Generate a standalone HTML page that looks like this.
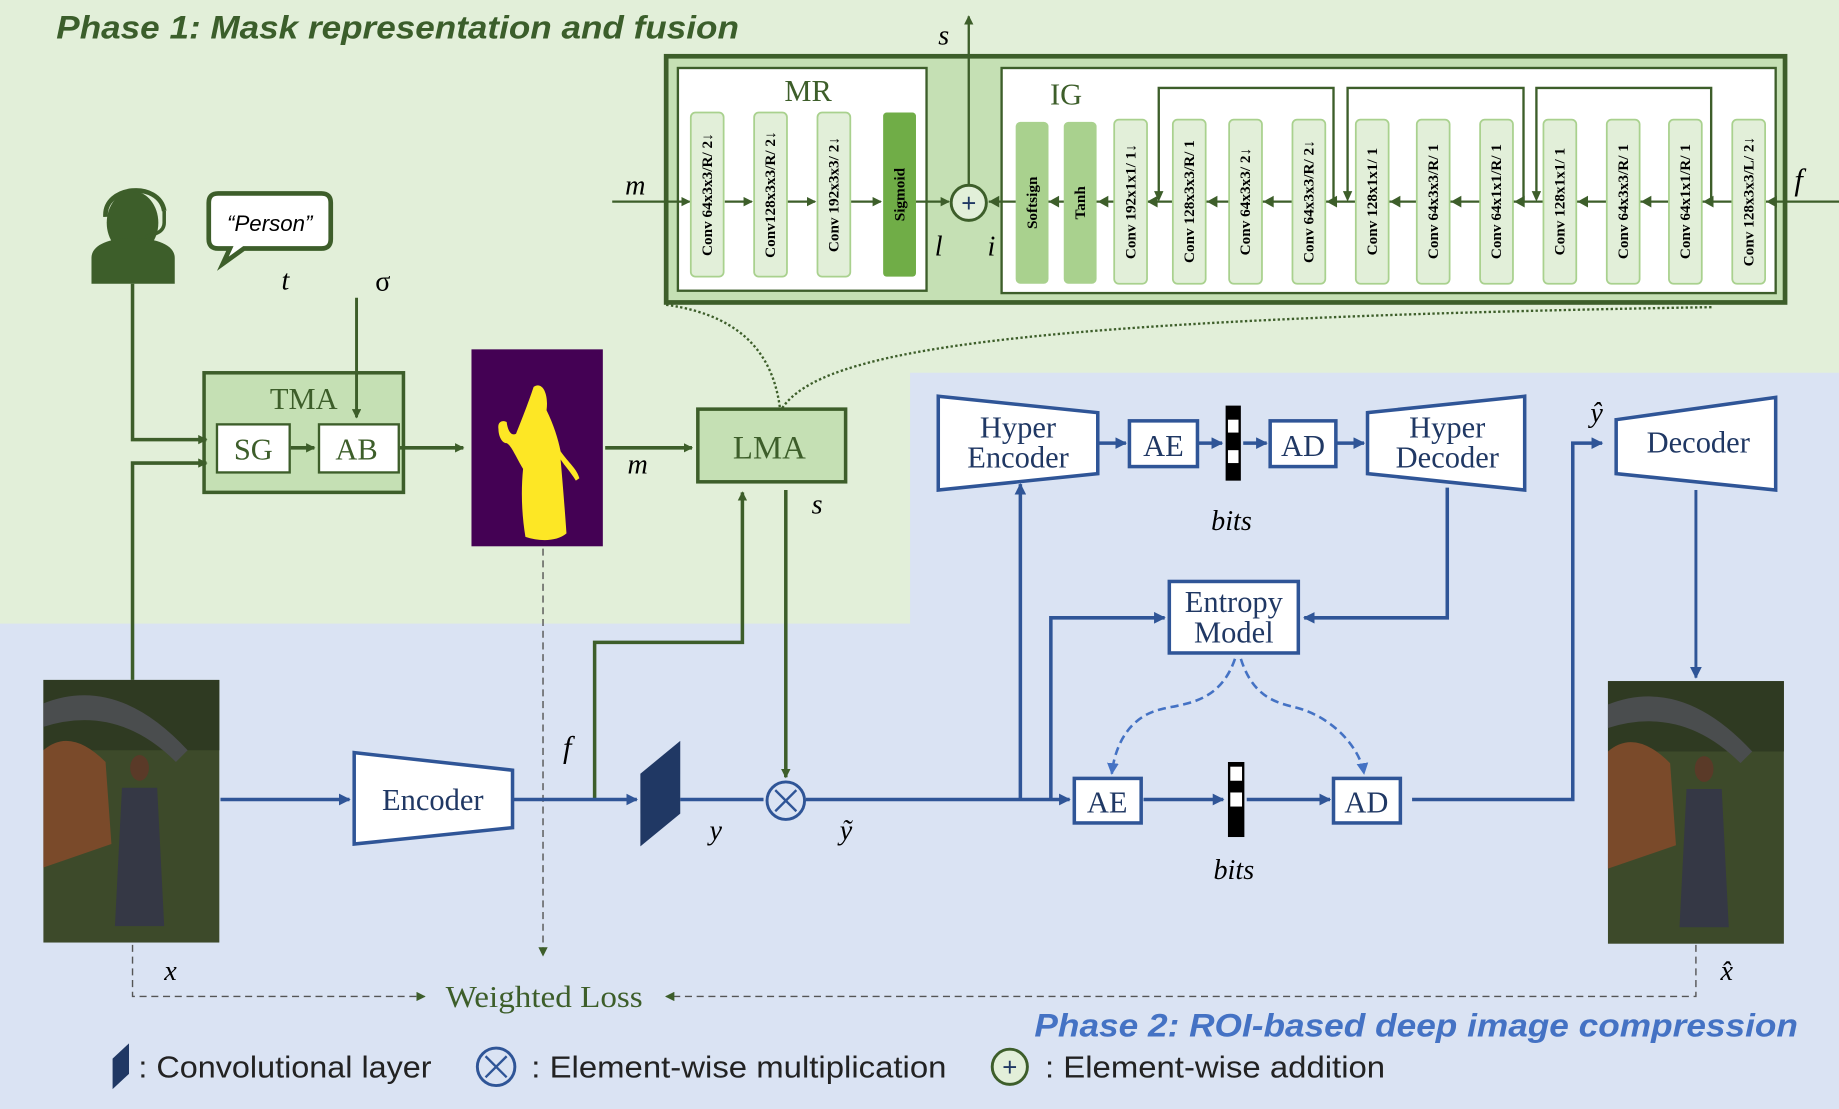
<!DOCTYPE html>
<html><head><meta charset="utf-8"><style>
html,body{margin:0;padding:0;background:#dae3f3;}
svg{display:block;}
.ser{font-family:"Liberation Serif",serif;}
.san{font-family:"Liberation Sans",sans-serif;}
.cv{font-family:"Liberation Serif",serif;font-weight:bold;font-size:13px;fill:#000;}
</style></head><body>
<svg width="1839" height="1109" viewBox="0 0 1568 946" preserveAspectRatio="none" xmlns="http://www.w3.org/2000/svg">
<defs>
<marker id="ag" markerWidth="8" markerHeight="8" refX="7" refY="4" orient="auto" markerUnits="userSpaceOnUse"><path d="M0,0 L8,4 L0,8 Z" fill="#3d5e2a"/></marker>
<marker id="ab" markerWidth="10" markerHeight="10" refX="9" refY="5" orient="auto" markerUnits="userSpaceOnUse"><path d="M0,0 L10,5 L0,10 Z" fill="#2f5597"/></marker>
<marker id="ab2" markerWidth="10" markerHeight="10" refX="9" refY="5" orient="auto" markerUnits="userSpaceOnUse"><path d="M0,0 L10,5 L0,10 Z" fill="#4472c4"/></marker>
<marker id="an" markerWidth="8" markerHeight="8" refX="7" refY="4" orient="auto" markerUnits="userSpaceOnUse"><path d="M0,0 L8,4 L0,8 Z" fill="#3d5e2a"/></marker>
</defs>
<rect x="0" y="0" width="1568" height="946" fill="#dae3f3"/>
<path d="M0,0 H1568 V318 H776 V532 H0 Z" fill="#e2efd9"/>
<text x="48" y="33" class="san" font-size="28" font-style="italic" font-weight="bold" fill="#3b5e2b" textLength="582" lengthAdjust="spacingAndGlyphs">Phase 1: Mask representation and fusion</text>

<rect x="568" y="48" width="954" height="210" fill="#c5e0b4" stroke="#3d5e2a" stroke-width="4"/>
<rect x="578" y="58" width="212" height="190" fill="#fff" stroke="#3d5e2a" stroke-width="2"/>
<rect x="854" y="58" width="660" height="192" fill="#fff" stroke="#3d5e2a" stroke-width="2"/>
<text x="689" y="86" class="ser" font-size="26" fill="#3d5e2a" text-anchor="middle">MR</text>
<text x="909" y="89" class="ser" font-size="26" fill="#3d5e2a" text-anchor="middle">IG</text>
<line x1="522" y1="172" x2="588" y2="172" stroke="#3d5e2a" stroke-width="2" marker-end="url(#ag)"/>
<line x1="618" y1="172" x2="641" y2="172" stroke="#3d5e2a" stroke-width="2" marker-end="url(#ag)"/>
<line x1="671" y1="172" x2="695" y2="172" stroke="#3d5e2a" stroke-width="2" marker-end="url(#ag)"/>
<line x1="725" y1="172" x2="751" y2="172" stroke="#3d5e2a" stroke-width="2" marker-end="url(#ag)"/>
<line x1="781" y1="172" x2="809" y2="172" stroke="#3d5e2a" stroke-width="2" marker-end="url(#ag)"/>
<line x1="1568" y1="172" x2="843" y2="172" stroke="#3d5e2a" stroke-width="2"/>
<g fill="#3d5e2a">
<path d="M843,172 l9,-5 v10z"/><path d="M894,172 l9,-5 v10z"/><path d="M936,172 l9,-5 v10z"/>
<path d="M978,172 l9,-5 v10z"/><path d="M1029,172 l9,-5 v10z"/><path d="M1077,172 l9,-5 v10z"/>
<path d="M1131,172 l9,-5 v10z"/><path d="M1185,172 l9,-5 v10z"/><path d="M1237,172 l9,-5 v10z"/>
<path d="M1291,172 l9,-5 v10z"/><path d="M1345,172 l9,-5 v10z"/><path d="M1399,172 l9,-5 v10z"/>
<path d="M1452,172 l9,-5 v10z"/><path d="M1506,172 l9,-5 v10z"/>
</g>
<g stroke="#3d5e2a" stroke-width="2" fill="none">
<path d="M1137,172 V75 H988 V164"/><path d="M1299,172 V75 H1149 V164"/><path d="M1459,172 V75 H1310 V164"/>
</g>
<g fill="#3d5e2a"><path d="M988,172 l-4,-9 h8z"/><path d="M1149,172 l-4,-9 h8z"/><path d="M1310,172 l-4,-9 h8z"/></g>
<g fill="#e2efd9" stroke="#a9d18e" stroke-width="1.5">
<rect x="589" y="96" width="28" height="140" rx="4"/><rect x="643" y="96" width="28" height="140" rx="4"/><rect x="697" y="96" width="28" height="140" rx="4"/>
</g>
<rect x="753" y="96" width="28" height="140" rx="3" fill="#70ad47"/>
<text class="cv" transform="translate(607,166) rotate(-90)" text-anchor="middle">Conv 64x3x3/R/ 2↓</text>
<text class="cv" transform="translate(661,166) rotate(-90)" text-anchor="middle">Conv128x3x3/R/ 2↓</text>
<text class="cv" transform="translate(715,166) rotate(-90)" text-anchor="middle">Conv 192x3x3/ 2↓</text>
<text class="cv" transform="translate(771,166) rotate(-90)" text-anchor="middle">Sigmoid</text>
<rect x="866" y="104" width="28" height="138" rx="4" fill="#a9d18e"/>
<rect x="907" y="104" width="28" height="138" rx="4" fill="#a9d18e"/>
<text class="cv" transform="translate(884,173) rotate(-90)" text-anchor="middle">Softsign</text>
<text class="cv" transform="translate(925,173) rotate(-90)" text-anchor="middle">Tanh</text>
<g fill="#e2efd9" stroke="#a9d18e" stroke-width="1.5">
<rect x="950" y="102" width="28" height="140" rx="4"/><rect x="1000" y="102" width="28" height="140" rx="4"/>
<rect x="1048" y="102" width="28" height="140" rx="4"/><rect x="1102" y="102" width="28" height="140" rx="4"/>
<rect x="1156" y="102" width="28" height="140" rx="4"/><rect x="1208" y="102" width="28" height="140" rx="4"/>
<rect x="1262" y="102" width="28" height="140" rx="4"/><rect x="1316" y="102" width="28" height="140" rx="4"/>
<rect x="1370" y="102" width="28" height="140" rx="4"/><rect x="1423" y="102" width="28" height="140" rx="4"/>
<rect x="1477" y="102" width="28" height="140" rx="4"/>
</g>
<text class="cv" transform="translate(968,172) rotate(-90)" text-anchor="middle">Conv 192x1x1/ 1↓</text>
<text class="cv" transform="translate(1018,172) rotate(-90)" text-anchor="middle">Conv 128x3x3/R/ 1</text>
<text class="cv" transform="translate(1066,172) rotate(-90)" text-anchor="middle">Conv 64x3x3/ 2↓</text>
<text class="cv" transform="translate(1120,172) rotate(-90)" text-anchor="middle">Conv 64x3x3/R/ 2↓</text>
<text class="cv" transform="translate(1174,172) rotate(-90)" text-anchor="middle">Conv 128x1x1/ 1</text>
<text class="cv" transform="translate(1226,172) rotate(-90)" text-anchor="middle">Conv 64x3x3/R/ 1</text>
<text class="cv" transform="translate(1280,172) rotate(-90)" text-anchor="middle">Conv 64x1x1/R/ 1</text>
<text class="cv" transform="translate(1334,172) rotate(-90)" text-anchor="middle">Conv 128x1x1/ 1</text>
<text class="cv" transform="translate(1388,172) rotate(-90)" text-anchor="middle">Conv 64x3x3/R/ 1</text>
<text class="cv" transform="translate(1441,172) rotate(-90)" text-anchor="middle">Conv 64x1x1/R/ 1</text>
<text class="cv" transform="translate(1495,172) rotate(-90)" text-anchor="middle">Conv 128x3x3/L/ 2↓</text>
<line x1="826" y1="158" x2="826" y2="14" stroke="#3d5e2a" stroke-width="2" marker-end="url(#ag)"/>
<circle cx="826" cy="173" r="15" fill="#e2efd9" stroke="#3d5e2a" stroke-width="2.5"/>
<text x="826" y="181" font-size="22" text-anchor="middle" fill="#203864" class="san">+</text>
<text x="800" y="38" class="ser" font-size="24" font-style="italic">s</text>
<text x="533" y="166" class="ser" font-size="24" font-style="italic">m</text>
<text x="797" y="218" class="ser" font-size="24" font-style="italic">l</text>
<text x="842" y="218" class="ser" font-size="24" font-style="italic">i</text>
<text x="1530" y="162" class="ser" font-size="26" font-style="italic">f</text>
<path d="M568,260 C640,270 660,310 665,348" fill="none" stroke="#3d5e2a" stroke-width="2" stroke-dasharray="2,2"/>
<path d="M667,348 C700,300 850,272 1460,262" fill="none" stroke="#3d5e2a" stroke-width="2" stroke-dasharray="2,2"/>

<g fill="#3d5e2a">
<ellipse cx="113" cy="190" rx="22" ry="27"/>
<path d="M78,242 V220 C78,208 95,203 113,203 C131,203 149,208 149,220 V242 Z"/>
</g>
<path d="M90,185 C88,158 136,154 140,180" fill="none" stroke="#3d5e2a" stroke-width="4"/>
<path d="M140,180 v10 c0,8 -8,10 -16,12" fill="none" stroke="#3d5e2a" stroke-width="3"/>
<path d="M190,165 H274 Q282,165 282,173 V204 Q282,212 274,212 H208 L190,225 L196,212 H186 Q178,212 178,204 V173 Q178,165 186,165 Z" fill="#fff" stroke="#3d5e2a" stroke-width="4"/>
<text x="230" y="197" class="san" font-size="19" font-style="italic" text-anchor="middle">“Person”</text>
<text x="240" y="247" class="ser" font-size="24" font-style="italic">t</text>
<text x="320" y="248" class="ser" font-size="24">σ</text>
<rect x="174" y="318" width="170" height="102" fill="#c5e0b4" stroke="#3d5e2a" stroke-width="3"/>
<text x="259" y="349" class="ser" font-size="26" fill="#3d5e2a" text-anchor="middle">TMA</text>
<rect x="185" y="362" width="62" height="41" fill="#fff" stroke="#3d5e2a" stroke-width="2"/>
<rect x="272" y="362" width="68" height="41" fill="#fff" stroke="#3d5e2a" stroke-width="2"/>
<text x="216" y="392" class="ser" font-size="26" fill="#3d5e2a" text-anchor="middle">SG</text>
<text x="304" y="392" class="ser" font-size="26" fill="#3d5e2a" text-anchor="middle">AB</text>
<g stroke="#3d5e2a" stroke-width="3" fill="none">
<path d="M113,242 V375 H176" marker-end="url(#ag)"/>
<path d="M113,580 V395 H176" marker-end="url(#ag)"/>
<path d="M304,254 V356" stroke-width="2.5" marker-end="url(#ag)"/>
<path d="M248,382 H268" marker-end="url(#ag)"/>
<path d="M341,382 H395" marker-end="url(#ag)"/>
<path d="M516,382 H590" marker-end="url(#ag)"/>
<path d="M507,682 V548 H633 V420" marker-end="url(#ag)"/>
<path d="M670,418 V663" marker-end="url(#ag)"/>
</g>
<rect x="402" y="298" width="112" height="168" fill="#440154"/>
<path d="M455,330 C462,325 468,335 466,350 C472,362 476,375 478,385 C485,395 492,400 494,408 L491,410 C486,402 482,398 478,392 C480,415 482,440 483,455 C475,462 460,462 448,458 C445,440 444,420 446,400 C440,390 436,380 432,378 C428,378 425,372 425,366 C424,360 428,358 432,360 C433,368 436,372 440,370 C444,360 450,345 455,330 Z" fill="#fde725"/>
<text x="535" y="404" class="ser" font-size="24" font-style="italic">m</text>
<rect x="595" y="349" width="126" height="62" fill="#c5e0b4" stroke="#3d5e2a" stroke-width="3"/>
<text x="656" y="391" class="ser" font-size="28" fill="#3d5e2a" text-anchor="middle">LMA</text>
<text x="692" y="438" class="ser" font-size="24" font-style="italic">s</text>
<text x="480" y="646" class="ser" font-size="26" font-style="italic">f</text>
<line x1="463" y1="468" x2="463" y2="815" stroke="#555" stroke-width="1.2" stroke-dasharray="6,4" marker-end="url(#an)"/>

<g>
<rect x="37" y="580" width="150" height="224" fill="#3d4a2a"/>
<rect x="37" y="580" width="150" height="60" fill="#2f3a22"/>
<path d="M37,600 Q100,575 160,640 L150,650 Q100,600 37,620Z" fill="#4a4d4e"/>
<path d="M37,640 Q60,620 90,650 L95,720 L37,740Z" fill="#7a4a2a"/>
<ellipse cx="119" cy="655" rx="8" ry="11" fill="#5a3a28"/>
<path d="M104,672 L134,672 L140,790 L98,790 Z" fill="#353845"/>
<rect x="1371" y="581" width="150" height="224" fill="#3d4a2a"/>
<rect x="1371" y="581" width="150" height="60" fill="#2f3a22"/>
<path d="M1371,601 Q1434,576 1494,641 L1484,651 Q1434,601 1371,621Z" fill="#4a4d4e"/>
<path d="M1371,641 Q1394,621 1424,651 L1429,721 L1371,741Z" fill="#7a4a2a"/>
<ellipse cx="1453" cy="656" rx="8" ry="11" fill="#5a3a28"/>
<path d="M1438,673 L1468,673 L1474,791 L1432,791 Z" fill="#353845"/>
</g>
<text x="140" y="836" class="ser" font-size="24" font-style="italic">x</text>
<text x="1467" y="836" class="ser" font-size="24" font-style="italic">x̂</text>
<g stroke="#2f5597" stroke-width="3" fill="none">
<path d="M188,682 H298" marker-end="url(#ab)"/>
<path d="M438,682 H543" marker-end="url(#ab)"/>
<path d="M580,682 H651"/>
<path d="M687,682 H912" marker-end="url(#ab)"/>
<path d="M870,682 V413" marker-end="url(#ab)"/>
<path d="M896,682 V527 H993" marker-end="url(#ab)"/>
<path d="M936,378 H960" marker-end="url(#ab)"/>
<path d="M1022,378 H1042" marker-end="url(#ab)"/>
<path d="M1060,378 H1080" marker-end="url(#ab)"/>
<path d="M1140,378 H1163" marker-end="url(#ab)"/>
<path d="M1234,416 V527 H1112" marker-end="url(#ab)"/>
<path d="M975,682 H1043" marker-end="url(#ab)"/>
<path d="M1063,682 H1134" marker-end="url(#ab)"/>
<path d="M1204,682 H1341 V378 H1366" marker-end="url(#ab)"/>
<path d="M1446,418 V578" stroke-width="2.5" marker-end="url(#ab)"/>
</g>
<g stroke="#4472c4" stroke-width="2.2" fill="none" stroke-dasharray="7,4">
<path d="M1053,562 C1040,600 1010,600 990,605 C960,612 950,640 948,660" marker-end="url(#ab2)"/>
<path d="M1058,562 C1070,600 1095,600 1110,605 C1140,615 1160,640 1163,660" marker-end="url(#ab2)"/>
</g>
<polygon points="302,642 437,657 437,706 302,720" fill="#fff" stroke="#2f5597" stroke-width="3"/>
<text x="369" y="691" class="ser" font-size="26" fill="#203864" text-anchor="middle">Encoder</text>
<polygon points="546,660 580,632 580,694 546,722" fill="#203864"/>
<text x="605" y="716" class="ser" font-size="24" font-style="italic">y</text>
<circle cx="670" cy="683" r="16" fill="#dae3f3" stroke="#2f5597" stroke-width="2.5"/>
<path d="M661,674 L679,692 M679,674 L661,692" stroke="#2f5597" stroke-width="2"/>
<text x="716" y="716" class="ser" font-size="24" font-style="italic">ỹ</text>
<polygon points="800,338 936,352 936,404 800,418" fill="#fff" stroke="#2f5597" stroke-width="3"/>
<text x="868" y="373" class="ser" font-size="26" fill="#203864" text-anchor="middle">Hyper</text>
<text x="868" y="399" class="ser" font-size="26" fill="#203864" text-anchor="middle">Encoder</text>
<rect x="963" y="359" width="58" height="39" fill="#fff" stroke="#2f5597" stroke-width="3"/>
<text x="992" y="389" class="ser" font-size="26" fill="#203864" text-anchor="middle">AE</text>
<rect x="1045" y="346" width="13" height="64" fill="#000"/>
<rect x="1047" y="358" width="9" height="11" fill="#fff"/><rect x="1047" y="384" width="9" height="11" fill="#fff"/>
<rect x="1083" y="359" width="56" height="39" fill="#fff" stroke="#2f5597" stroke-width="3"/>
<text x="1111" y="389" class="ser" font-size="26" fill="#203864" text-anchor="middle">AD</text>
<polygon points="1166,352 1300,338 1300,418 1166,404" fill="#fff" stroke="#2f5597" stroke-width="3"/>
<text x="1234" y="373" class="ser" font-size="26" fill="#203864" text-anchor="middle">Hyper</text>
<text x="1234" y="399" class="ser" font-size="26" fill="#203864" text-anchor="middle">Decoder</text>
<text x="1050" y="452" class="ser" font-size="24" font-style="italic" text-anchor="middle">bits</text>
<text x="1356" y="360" class="ser" font-size="24" font-style="italic">ŷ</text>
<polygon points="1378,358 1514,339 1514,418 1378,404" fill="#fff" stroke="#2f5597" stroke-width="3"/>
<text x="1448" y="386" class="ser" font-size="26" fill="#203864" text-anchor="middle">Decoder</text>
<rect x="997" y="496" width="110" height="61" fill="#fff" stroke="#2f5597" stroke-width="3"/>
<text x="1052" y="522" class="ser" font-size="26" fill="#203864" text-anchor="middle">Entropy</text>
<text x="1052" y="548" class="ser" font-size="26" fill="#203864" text-anchor="middle">Model</text>
<rect x="916" y="664" width="57" height="38" fill="#fff" stroke="#2f5597" stroke-width="3"/>
<text x="944" y="693" class="ser" font-size="26" fill="#203864" text-anchor="middle">AE</text>
<rect x="1047" y="650" width="14" height="64" fill="#000"/>
<rect x="1049" y="654" width="10" height="12" fill="#fff"/><rect x="1049" y="676" width="10" height="12" fill="#fff"/>
<rect x="1137" y="664" width="57" height="38" fill="#fff" stroke="#2f5597" stroke-width="3"/>
<text x="1165" y="693" class="ser" font-size="26" fill="#203864" text-anchor="middle">AD</text>
<text x="1052" y="750" class="ser" font-size="24" font-style="italic" text-anchor="middle">bits</text>
<g stroke="#555" stroke-width="1.2" fill="none" stroke-dasharray="6,4">
<path d="M113,806 V850 H362" marker-end="url(#an)"/>
<path d="M1446,806 V850 H568" marker-end="url(#an)"/>
</g>
<text x="380" y="859" class="ser" font-size="26" fill="#3d5e2a" textLength="168" lengthAdjust="spacingAndGlyphs">Weighted Loss</text>
<text x="882" y="884" class="san" font-size="28" font-style="italic" font-weight="bold" fill="#4472c4" textLength="651" lengthAdjust="spacingAndGlyphs">Phase 2: ROI-based deep image compression</text>
<polygon points="96,903 110,890 110,916 96,929" fill="#203864"/>
<text x="118" y="919" class="san" font-size="26" fill="#222" textLength="250" lengthAdjust="spacingAndGlyphs">: Convolutional layer</text>
<circle cx="423" cy="910" r="16" fill="#dae3f3" stroke="#2f5597" stroke-width="2.5"/>
<path d="M414,901 L432,919 M432,901 L414,919" stroke="#2f5597" stroke-width="2"/>
<text x="453" y="919" class="san" font-size="26" fill="#222" textLength="354" lengthAdjust="spacingAndGlyphs">: Element-wise multiplication</text>
<circle cx="861" cy="910" r="15" fill="#e2efd9" stroke="#3d5e2a" stroke-width="2.5"/>
<text x="861" y="918" font-size="22" text-anchor="middle" fill="#203864" class="san">+</text>
<text x="891" y="919" class="san" font-size="26" fill="#222" textLength="290" lengthAdjust="spacingAndGlyphs">: Element-wise addition</text>
</svg>
</body></html>
